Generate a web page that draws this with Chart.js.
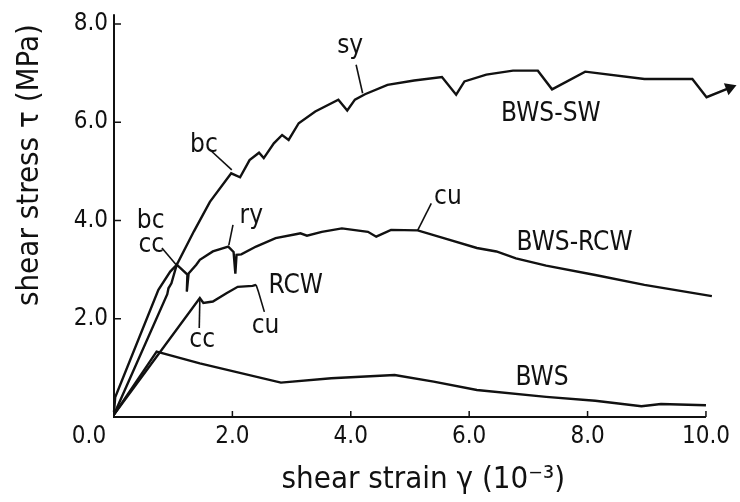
<!DOCTYPE html>
<html>
<head>
<meta charset="utf-8">
<script src="https://cdn.jsdelivr.net/npm/chart.js@4.4.0/dist/chart.umd.min.js"></script>
<style>
    html, body { margin: 0; padding: 0; background: #fff; }
</style>
</head>
<body>
<canvas id="myChart" width="740" height="502"></canvas>
<script>
const narrowFont = "'Liberation Sans Narrow', 'DejaVu Sans Condensed', 'Arial Narrow', sans-serif";
const titleFont = "'DejaVu Sans Condensed', 'Liberation Sans Narrow', sans-serif";

// BWS-SW (steel wall)
const swStrain = [0, 0.02, 0.75, 0.95, 1.06, 1.35, 1.62, 1.98, 2.13, 2.29, 2.45, 2.53, 2.70, 2.84, 2.95, 3.12, 3.40, 3.79, 3.94, 4.07, 4.24, 4.62, 5.07, 5.54, 5.78, 5.92, 6.29, 6.74, 7.16, 7.40, 7.96, 8.96, 9.77, 10.01, 10.40];
const swStress = [0.10, 0.40, 2.59, 2.96, 3.10, 3.78, 4.38, 4.96, 4.88, 5.23, 5.38, 5.27, 5.57, 5.74, 5.64, 5.98, 6.22, 6.46, 6.24, 6.46, 6.57, 6.76, 6.85, 6.92, 6.56, 6.83, 6.97, 7.05, 7.05, 6.67, 7.03, 6.88, 6.88, 6.51, 6.70];

// BWS-RCW
const rcwStrain = [0, 0.90, 0.92, 0.97, 1.06, 1.24, 1.23, 1.26, 1.39, 1.45, 1.67, 1.93, 2.02, 2.05, 2.07, 2.15, 2.40, 2.73, 3.07, 3.15, 3.26, 3.51, 3.85, 4.29, 4.43, 4.68, 5.13, 5.57, 6.13, 6.46, 6.79, 7.30, 8.13, 8.96, 10.10];
const rcwStress = [0.05, 2.50, 2.62, 2.72, 3.10, 2.90, 2.55, 2.92, 3.10, 3.20, 3.37, 3.47, 3.36, 2.92, 3.30, 3.31, 3.47, 3.64, 3.72, 3.74, 3.69, 3.77, 3.84, 3.77, 3.67, 3.81, 3.80, 3.64, 3.44, 3.37, 3.23, 3.08, 2.89, 2.69, 2.46];

// RCW
const rcStrain = [0, 1.45, 1.51, 1.67, 1.90, 2.09, 2.34, 2.40];
const rcStress = [0.05, 2.42, 2.32, 2.35, 2.52, 2.65, 2.67, 2.69];

// BWS (bare wall)
const bwsStrain = [0, 0.72, 1.45, 2.82, 3.67, 4.74, 5.40, 6.13, 7.30, 8.13, 8.91, 9.24, 10.0];
const bwsStress = [0.05, 1.33, 1.09, 0.70, 0.79, 0.855, 0.72, 0.55, 0.41, 0.33, 0.22, 0.265, 0.24];

const xTicks = [0, 2, 4, 6, 8, 10];
const yTicks = [0, 2, 4, 6, 8];

// curve labels and the little leader lines
const curveLabels = [
    {text: 'sy', x: 3.99, y: 7.41},
    {text: 'bc', x: 1.52, y: 5.40},
    {text: 'bc', x: 0.62, y: 3.85},
    {text: 'cc', x: 0.63, y: 3.36},
    {text: 'ry', x: 2.32, y: 3.95},
    {text: 'cu', x: 5.64, y: 4.34},
    {text: 'BWS-SW', x: 7.38, y: 6.03},
    {text: 'BWS-RCW', x: 7.78, y: 3.40},
    {text: 'RCW', x: 3.07, y: 2.53},
    {text: 'cc', x: 1.49, y: 1.43},
    {text: 'cu', x: 2.56, y: 1.70},
    {text: 'BWS', x: 7.23, y: 0.65}
];
const leaders = [
    [[4.09, 7.17], [4.20, 6.59]],
    [[1.62, 5.44], [1.99, 5.03]],
    [[0.81, 3.44], [1.05, 3.10]],
    [[2.01, 3.91], [1.94, 3.50]],
    [[5.36, 4.35], [5.13, 3.80]],
    [[1.45, 2.38], [1.44, 1.81]],
    [[2.40, 2.69], [2.44, 2.55], [2.54, 2.14]]
];

function toPoints(xs, ys) {
    return xs.map((x, i) => ({x: x, y: ys[i]}));
}

const paperPlugin = {
    id: 'paper',
    afterDatasetsDraw(chart) {
        const {ctx, scales: {x, y}} = chart;
        const x0 = x.getPixelForValue(0);
        const y0 = y.getPixelForValue(0);
        ctx.save();
        ctx.strokeStyle = '#111';
        ctx.fillStyle = '#111';

        // axis lines, only up to 10.0
        ctx.lineWidth = 2;
        ctx.beginPath();
        ctx.moveTo(x0, y.getPixelForValue(8.2));
        ctx.lineTo(x0, y0);
        ctx.lineTo(x.getPixelForValue(10), y0);
        ctx.stroke();

        // inward tick marks
        ctx.lineWidth = 1.5;
        ctx.beginPath();
        y.ticks.forEach(t => {
            if (t.value <= 0) return;
            const py = y.getPixelForValue(t.value);
            ctx.moveTo(x0, py);
            ctx.lineTo(x0 + 7, py);
        });
        x.ticks.forEach(t => {
            if (t.value <= 0) return;
            const px = x.getPixelForValue(t.value);
            ctx.moveTo(px, y0);
            ctx.lineTo(px, y0 - 6);
        });
        ctx.stroke();

        // shared origin label
        ctx.font = '24px ' + narrowFont;
        ctx.textAlign = 'center';
        ctx.textBaseline = 'middle';
        ctx.fillText('0.0', x0 - 25, y0 + 20);

        // leaders
        ctx.lineWidth = 1.6;
        leaders.forEach(line => {
            ctx.beginPath();
            line.forEach((p, i) => {
                const px = x.getPixelForValue(p[0]);
                const py = y.getPixelForValue(p[1]);
                if (i === 0) ctx.moveTo(px, py); else ctx.lineTo(px, py);
            });
            ctx.stroke();
        });

        // labels
        ctx.font = '26px ' + narrowFont;
        ctx.textBaseline = 'alphabetic';
        curveLabels.forEach(l => {
            ctx.fillText(l.text, x.getPixelForValue(l.x), y.getPixelForValue(l.y));
        });
        ctx.restore();
    }
};

function lineSet(label, xs, ys) {
    return {
        label: label,
        data: toPoints(xs, ys),
        showLine: true,
        borderColor: '#111',
        backgroundColor: '#111',
        borderWidth: 2.4,
        tension: 0,
        pointRadius: 0
    };
}

const swSet = lineSet('BWS-SW', swStrain, swStress);
swSet.pointStyle = 'triangle';
swSet.pointRadius = ctx => ctx.dataIndex === swStrain.length - 1 ? 5 : 0;
swSet.pointRotation = 69;
swSet.clip = false;

new Chart(document.getElementById('myChart'), {
    type: 'scatter',
    data: {
        datasets: [
            swSet,
            lineSet('BWS-RCW', rcwStrain, rcwStress),
            lineSet('RCW', rcStrain, rcStress),
            lineSet('BWS', bwsStrain, bwsStress)
        ]
    },
    options: {
        responsive: false,
        animation: false,
        events: [],
        layout: {padding: {top: 24, right: 1, left: 0, bottom: 0}},
        plugins: {legend: {display: false}, tooltip: {enabled: false}},
        scales: {
            x: {
                type: 'linear',
                min: 0,
                max: 10.45,
                afterFit: scale => { scale.height = 85; },
                afterBuildTicks: scale => { scale.ticks = xTicks.map(v => ({value: v})); },
                grid: {display: false, drawTicks: false},
                border: {display: false},
                ticks: {
                    padding: 5,
                    color: '#111',
                    font: {family: narrowFont, size: 24},
                    callback: v => v === 0 ? '' : v.toFixed(1)
                },
                title: {
                    display: true,
                    text: 'shear strain \u03b3 (10\u207b\u00b3)',
                    color: '#111',
                    padding: {top: 0, bottom: 3},
                    font: {family: titleFont, size: 31}
                }
            },
            y: {
                type: 'linear',
                min: 0,
                max: 8,
                afterFit: scale => { scale.width = 114; },
                afterBuildTicks: scale => { scale.ticks = yTicks.map(v => ({value: v})); },
                grid: {display: false, drawTicks: false},
                border: {display: false},
                ticks: {
                    padding: 6,
                    color: '#111',
                    font: {family: narrowFont, size: 24},
                    callback: v => v === 0 ? '' : v.toFixed(1)
                },
                title: {
                    display: true,
                    text: 'shear stress \u03c4 (MPa)',
                    align: 'end',
                    color: '#111',
                    padding: {top: 11, bottom: 0},
                    font: {family: titleFont, size: 31}
                }
            }
        }
    },
    plugins: [paperPlugin]
});
</script>
</body>
</html>
